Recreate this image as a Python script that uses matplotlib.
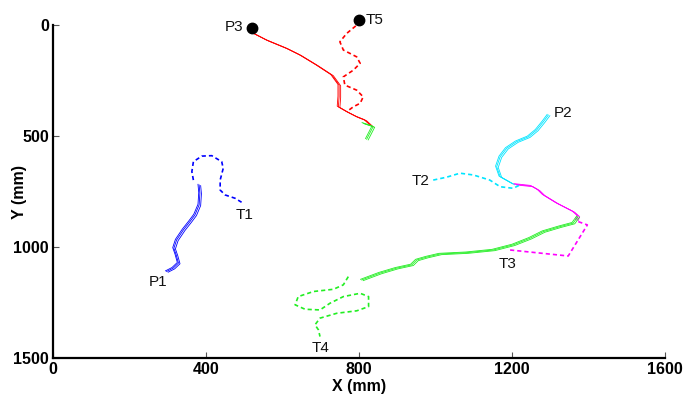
import matplotlib
matplotlib.use("Agg")
import matplotlib.pyplot as plt
import numpy as np

plt.rcParams['font.family'] = ['Liberation Sans', 'DejaVu Sans']

# ---- data (mm) ----
p1_x = [297, 314, 328, 322, 316, 323, 341, 358, 371, 382, 384, 382]
p1_y = [1110, 1095, 1072, 1035, 1005, 968, 922, 885, 855, 810, 757, 720]
t1_x = [367, 363, 367, 389, 415, 441, 445, 437, 437, 450, 476, 493]
t1_y = [698, 660, 615, 590, 588, 615, 645, 698, 743, 765, 780, 798]

p3_x = [520, 524, 559, 611, 646, 689, 729, 748, 748, 746, 768, 794, 816, 833]
p3_y = [13, 37, 68, 105, 135, 180, 225, 270, 323, 368, 390, 413, 428, 455]
p3g_x = [811, 837, 820]
p3g_y = [442, 457, 514]
t5_x = [800, 794, 768, 750, 759, 794, 803, 785, 759, 763, 794, 811, 803, 785, 768]
t5_y = [-25, 0, 37, 75, 112, 143, 172, 203, 233, 270, 293, 323, 352, 368, 390]

p2_x = [1295, 1282, 1264, 1243, 1212, 1186, 1169, 1160, 1169, 1203]
p2_y = [405, 435, 473, 503, 525, 555, 593, 638, 683, 716]
p2m_x = [1208, 1251, 1269, 1282, 1317, 1360, 1373, 1369]
p2m_y = [717, 725, 743, 765, 802, 840, 860, 878]
t2_x = [994, 1029, 1064, 1099, 1142, 1169, 1203, 1221]
t2_y = [698, 685, 667, 675, 698, 728, 735, 720]

t3_x = [1195, 1347, 1397, 1373]
t3_y = [1013, 1040, 900, 885]
p4_x = [1372, 1360, 1325, 1282, 1247, 1203, 1151, 1082, 1012, 977, 951, 938, 898, 855, 807]
p4_y = [863, 892, 908, 930, 960, 990, 1013, 1025, 1031, 1045, 1058, 1080, 1095, 1117, 1148]
t4_x = [772, 759, 733, 681, 641, 633, 659, 698, 724, 759, 803, 825, 825, 794, 742, 698, 685, 694, 698]
t4_y = [1133, 1170, 1190, 1200, 1223, 1260, 1280, 1283, 1253, 1223, 1208, 1223, 1268, 1287, 1298, 1320, 1350, 1373, 1403]

dots_x = [520, 800]
dots_y = [13, -25]

labels = ['P1', 'T1', 'P3', 'T5', 'P2', 'T2', 'T3', 'T4']
label_x = [275, 478, 498, 818, 1308, 985, 1165, 675]
label_y = [1155, 855, 10, -25, 395, 700, 1075, 1455]
label_ha = ['center', 'left', 'right', 'left', 'left', 'right', 'left', 'left']

x_ticks = [0, 400, 800, 1200, 1600]
y_ticks = [0, 500, 1000, 1500]

# ---- plot ----
fig = plt.figure(figsize=(6.85, 4.01), dpi=100)
ax = fig.add_axes([0.0774, 0.107, 0.8934, 0.8303])

rep_offsets = [(0, 0), (4, 3), (-3, -3)]

def solid(x, y, c):
    x = np.asarray(x, float); y = np.asarray(y, float)
    for dx, dy in rep_offsets:
        ax.plot(x + dx, y + dy, color=c, lw=0.6, solid_joinstyle='round')

def dashed(x, y, c):
    ax.plot(x, y, color=c, lw=1.2, ls=(0, (2.5, 1.8)))

solid(p1_x, p1_y, '#0000ff')
dashed(t1_x, t1_y, '#0000ff')
solid(p3_x, p3_y, '#ff0000')
solid(p3g_x, p3g_y, '#22ee22')
dashed(t5_x, t5_y, '#ff0000')
solid(p2_x, p2_y, '#00e5ff')
solid(p2m_x, p2m_y, '#ff00ff')
dashed(t2_x, t2_y, '#00e5ff')
dashed(t3_x, t3_y, '#ff00ff')
solid(p4_x, p4_y, '#22ee22')
dashed(t4_x, t4_y, '#22ee22')

ax.plot(dots_x, dots_y, 'o', color='black', ms=7.5, clip_on=False, zorder=5)

for t, lx, ly, ha in zip(labels, label_x, label_y, label_ha):
    ax.text(lx, ly, t, ha=ha, va='center', fontsize=11, color='#111111')

ax.set_xlim(0, 1600)
ax.set_ylim(1500, 0)
ax.set_xticks(x_ticks)
ax.set_yticks(y_ticks)
for s in ['top', 'right']:
    ax.spines[s].set_visible(False)
for s in ['left', 'bottom']:
    ax.spines[s].set_linewidth(1.6)
ax.tick_params(direction='in', length=4, width=0.8, color='#555555', labelsize=11.5, pad=3)
for lab in ax.get_xticklabels() + ax.get_yticklabels():
    lab.set_fontweight('bold')
ax.set_xlabel('X (mm)', fontsize=11.5, fontweight='bold', labelpad=1)
ax.set_ylabel('Y (mm)', fontsize=11.5, fontweight='bold')
ax.yaxis.set_label_coords(-0.042, 0.5)

fig.savefig('out.png', dpi=100)
